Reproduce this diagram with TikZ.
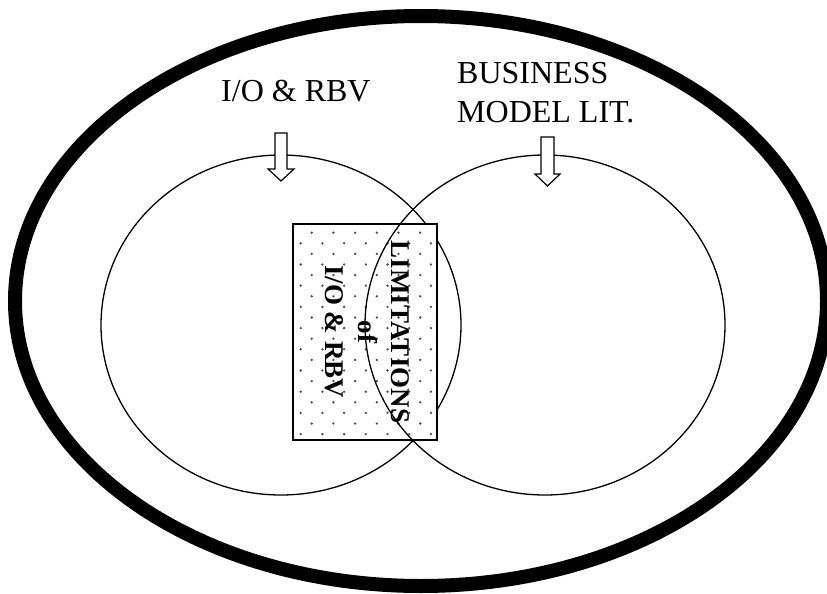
\documentclass[tikz,border=0pt]{standalone}
\usepackage{fontspec}
\setmainfont{Liberation Serif}
\begin{document}
\begin{tikzpicture}[x=1pt,y=-1pt,
  thinring/.style={line width=1.3pt},
  label/.style={inner sep=0pt,font=\fontsize{32}{38}\selectfont},
  blockarrow/.style={draw,line width=1.2pt,fill=white,line join=miter},
  dotmark/.style={fill=black!70}]
\useasboundingbox (0,0) rectangle (827,594);
\clip (0,0) rectangle (827,594);

% outer boundary
\draw[line width=14pt] (421,301) ellipse [x radius=406pt, y radius=285pt];

% left set
\draw[thinring] (281,325) ellipse [x radius=180pt, y radius=170pt];

% shaded overlap box with dot grid
\node[draw,line width=1.4pt,fill=white,minimum width=144pt,minimum height=216pt,
      inner sep=0pt] (box) at (365,332) {};
\begin{scope}
  \clip (box.north west) rectangle (box.south east);
  \foreach \j in {0,...,19}{
    \pgfmathsetmacro{\yy}{232.7+10.6*\j}
    \pgfmathsetmacro{\xs}{mod(\j,2)==0 ? 311.7 : 300.7}
    \foreach \i in {0,...,6}{
      \fill[dotmark] ({\xs+21.7*\i},\yy) circle (1.3pt);
    }
  }
\end{scope}

% right set
\draw[thinring] (545,325) ellipse [x radius=180pt, y radius=170pt];

% labels
\node[label,anchor=base west] (iorbv) at (221,101) {I/O \& RBV};
\node[label,anchor=base west] (bm1) at (457,84) {BUSINESS};
\node[label,anchor=base west] (bm2) at (457,122) {MODEL LIT.};

% block arrows pointing into the sets
\draw[blockarrow] (275,133) -- (287,133) -- (287,169) -- (294,169) -- (281,181)
  -- (268,169) -- (275,169) -- cycle;
\draw[blockarrow] (541,137) -- (554,137) -- (554,174) -- (560,174) -- (547.5,186)
  -- (535,174) -- (541,174) -- cycle;

% rotated caption inside the box
\node[rotate=-90,align=center,inner sep=0pt,
      font=\bfseries\fontsize{27}{33}\selectfont] (lim) at (367,332)
  {LIMITATIONS\\of\\I/O \& RBV};
\end{tikzpicture}
\end{document}
